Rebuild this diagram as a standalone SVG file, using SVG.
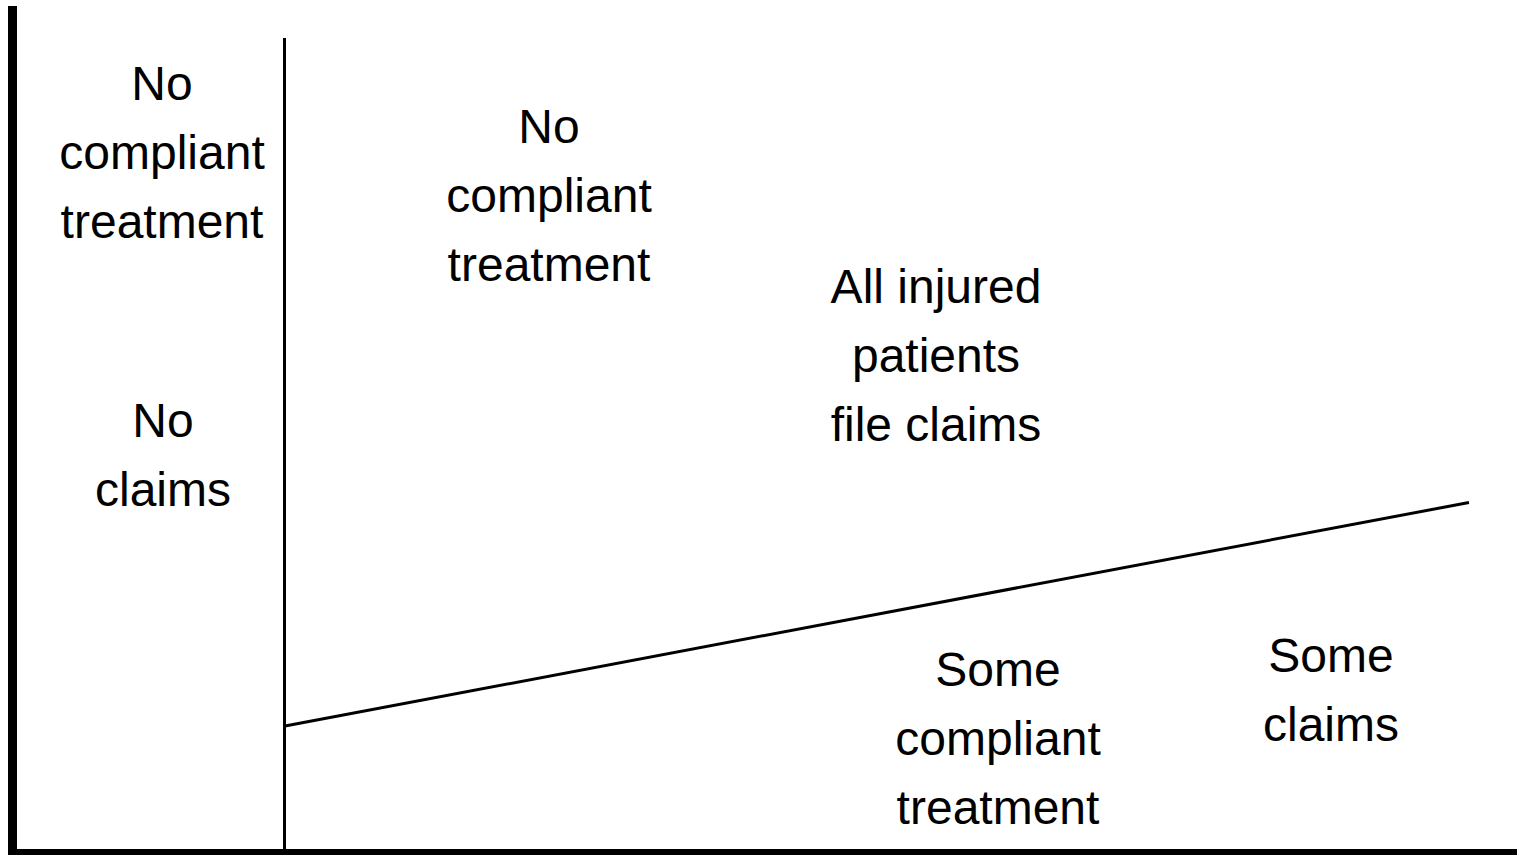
<svg xmlns="http://www.w3.org/2000/svg" width="1524" height="855" viewBox="0 0 1524 855">
<style>
.t{font-family:"Liberation Sans",Arial,sans-serif;font-size:48px;fill:#000;text-anchor:middle}
.ax{stroke:#000;fill:none}
</style>
<rect width="1524" height="855" fill="#fff"/>
<g id="connectors">
<line class="ax" x1="12.5" y1="6" x2="12.5" y2="855" stroke-width="9"/>
<line class="ax" x1="8" y1="852" x2="1517" y2="852" stroke-width="6"/>
<line class="ax" x1="284.5" y1="38" x2="284.5" y2="850" stroke-width="3"/>
<line class="ax" x1="285" y1="726" x2="1469" y2="502.5" stroke-width="3"/>
</g>
<g id="label-left-treatment"><text class="t" x="162" y="100">No<tspan x="162" y="169">compliant</tspan><tspan x="162" y="238">treatment</tspan></text></g>
<g id="label-left-claims"><text class="t" x="163" y="437">No<tspan x="163" y="506">claims</tspan></text></g>
<g id="label-mid-treatment"><text class="t" x="549" y="143">No<tspan x="549" y="212">compliant</tspan><tspan x="549" y="281">treatment</tspan></text></g>
<g id="label-all-injured"><text class="t" x="936" y="303">All injured<tspan x="936" y="372">patients</tspan><tspan x="936" y="441">file claims</tspan></text></g>
<g id="label-some-treatment"><text class="t" x="998" y="686">Some<tspan x="998" y="755">compliant</tspan><tspan x="998" y="824">treatment</tspan></text></g>
<g id="label-some-claims"><text class="t" x="1331" y="672">Some<tspan x="1331" y="741">claims</tspan></text></g>
</svg>
